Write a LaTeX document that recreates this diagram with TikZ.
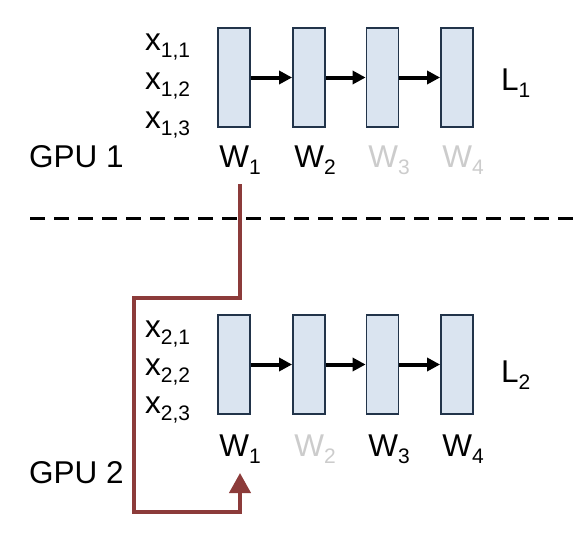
\documentclass[tikz,border=0pt]{standalone}
\usepackage{fontspec}
\setmainfont{Liberation Sans}
\usetikzlibrary{positioning, arrows.meta}

\definecolor{layerFill}{HTML}{DAE4F0}
\definecolor{layerDraw}{HTML}{22344A}
\definecolor{syncRed}{HTML}{8C3B3A}
\definecolor{idleGray}{HTML}{CCCCCC}

% label with a lowered subscript, as in the slides
\newcommand{\lbl}[2]{#1\raisebox{-7pt}{\fontsize{21}{21}\selectfont #2}}

\begin{document}
\begin{tikzpicture}[
		x=1pt, y=-1pt,
		font=\fontsize{31.5}{33}\selectfont,
		% Box styles for the layers
		layer/.style={draw=layerDraw, line width=1.8pt, fill=layerFill, minimum width=32pt, minimum height=99pt, inner sep=0pt},
		txt/.style={inner sep=0pt, anchor=base west},
		wlbl/.style={inner sep=0pt, anchor=base},
		idle/.style={text=idleGray},
		% Arrow styles
		fwdArrow/.style={-{Triangle[length=13pt, width=13pt]}, line width=4pt, black},
		syncArrow/.style={-{Triangle[length=20pt, width=21pt]}, line width=4pt, color=syncRed},
		splitLine/.style={line width=3pt, dash pattern=on 15pt off 9pt}
		]
		\useasboundingbox (0,0) rectangle (574,552);
		
		% =========================================================
		% TOP: GPU 1
		% =========================================================
		\node[layer] (A1) at (234, 77.5) {};
		\node[layer] (A2) at (309, 77.5) {};
		\node[layer] (A3) at (382.5, 77.5) {};
		\node[layer] (A4) at (457, 77.5) {};
		
		\draw[fwdArrow] (A1.east) -- (A2.west);
		\draw[fwdArrow] (A2.east) -- (A3.west);
		\draw[fwdArrow] (A3.east) -- (A4.west);
		
		\node[txt] (xA1) at (145, 50) {\lbl{x}{1,1}};
		\node[txt] (xA2) at (145, 89) {\lbl{x}{1,2}};
		\node[txt] (xA3) at (145, 128) {\lbl{x}{1,3}};
		\node[txt] (LA) at (501, 90) {\lbl{L}{1}};
		\node[txt] (GpuA) at (29, 167) {GPU 1};
		
		\node[wlbl] (wA1) at (240, 167) {\lbl{W}{1}};
		\node[wlbl] (wA2) at (315, 167) {\lbl{W}{2}};
		\node[wlbl, idle] (wA3) at (389, 167) {\lbl{W}{3}};
		\node[wlbl, idle] (wA4) at (463, 167) {\lbl{W}{4}};
		
		% divider between the two GPUs
		\coordinate (SplitL) at (30, 218);
		\coordinate (SplitR) at (574, 218);
		\draw[splitLine] (SplitL) -- (SplitR);
		
		% =========================================================
		% BOTTOM: GPU 2
		% =========================================================
		\node[layer] (B1) at (234, 364.5) {};
		\node[layer] (B2) at (309, 364.5) {};
		\node[layer] (B3) at (382.5, 364.5) {};
		\node[layer] (B4) at (457, 364.5) {};
		
		\draw[fwdArrow] (B1.east) -- (B2.west);
		\draw[fwdArrow] (B2.east) -- (B3.west);
		\draw[fwdArrow] (B3.east) -- (B4.west);
		
		\node[txt] (xB1) at (145, 337) {\lbl{x}{2,1}};
		\node[txt] (xB2) at (145, 375) {\lbl{x}{2,2}};
		\node[txt] (xB3) at (145, 413) {\lbl{x}{2,3}};
		\node[txt] (LB) at (501, 382) {\lbl{L}{2}};
		\node[txt] (GpuB) at (29, 483) {GPU 2};
		
		\node[wlbl] (wB1) at (240, 456) {\lbl{W}{1}};
		\node[wlbl, idle] (wB2) at (315, 456) {\lbl{W}{2}};
		\node[wlbl] (wB3) at (389, 456) {\lbl{W}{3}};
		\node[wlbl] (wB4) at (463, 456) {\lbl{W}{4}};
		
		% =========================================================
		% WEIGHT SYNC PATH
		% =========================================================
		\coordinate (SyncTop) at (240, 184);
		\coordinate (SyncLeft) at (134, 298);
		\coordinate (SyncLow) at (240, 512);
		\coordinate (SyncEnd) at (240, 473);
		\draw[syncArrow] (SyncTop) |- (SyncLeft) |- (SyncLow) -- (SyncEnd);
		
	\end{tikzpicture}
\end{document}
